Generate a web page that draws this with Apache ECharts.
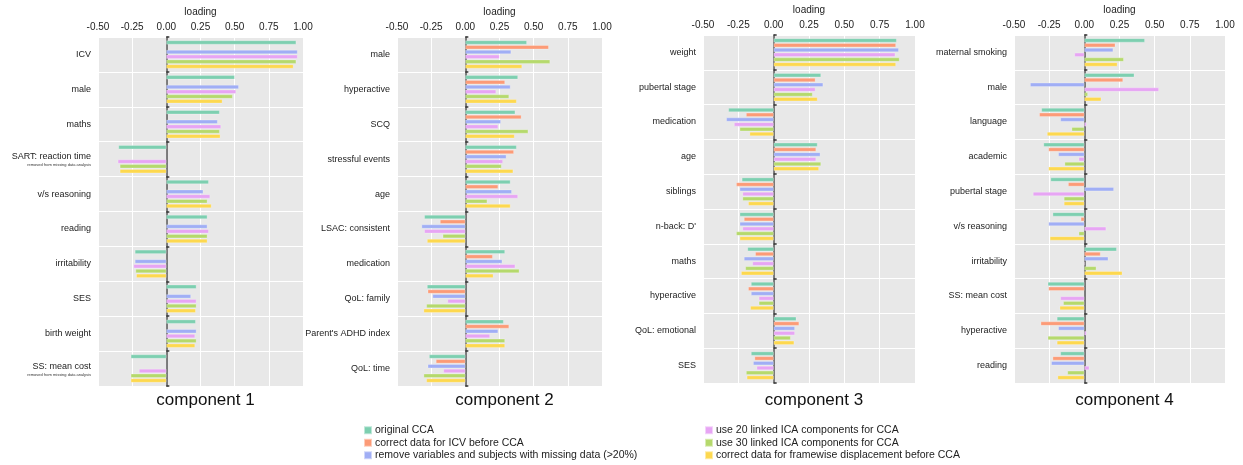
<!DOCTYPE html>
<html>
<head>
<meta charset="utf-8">
<script src="https://cdn.jsdelivr.net/npm/echarts@6/dist/echarts.min.js"></script>
<style>
  html, body { margin: 0; padding: 0; background: #ffffff; }
  #chart { width: 1243px; height: 465px; }
</style>
</head>
<body>
<div id="chart"></div>
<script>
// ---------- DATA ----------
const seriesNames = [
  'original CCA',
  'correct data for ICV before CCA',
  'remove variables and subjects with missing data (>20%)',
  'use 20 linked ICA components for CCA',
  'use 30 linked ICA components for CCA',
  'correct data for framewise displacement before CCA'
];
const seriesColors = ['#7dcfb0', '#fc9b77', '#a0aef5', '#e7a5f4', '#b5d96c', '#fdd84f'];
const tickValues = [-0.5, -0.25, 0, 0.25, 0.5, 0.75, 1.0];
const componentTitles = ['component 1', 'component 2', 'component 3', 'component 4'];

// component 1
const c1Labels = ['ICV', 'male', 'maths', 'SART: reaction time', 'v/s reasoning', 'reading', 'irritability', 'SES', 'birth weight', 'SS: mean cost'];
const c1Notes = ['', '', '', 'removed from missing data analysis', '', '', '', '', '', 'removed from missing data analysis'];
const c1Original = [0.95, 0.50, 0.39, -0.35, 0.31, 0.30, -0.23, 0.22, 0.215, -0.26];
const c1ICV      = [null, null, null, null, null, null, null, null, null, null];
const c1Missing  = [0.96, 0.53, 0.375, null, 0.27, 0.30, -0.23, 0.18, 0.22, null];
const c1ICA20    = [0.96, 0.51, 0.40, -0.355, 0.32, 0.31, -0.24, 0.22, 0.21, -0.20];
const c1ICA30    = [0.95, 0.485, 0.39, -0.34, 0.30, 0.30, -0.225, 0.22, 0.22, -0.26];
const c1FD       = [0.93, 0.41, 0.395, -0.34, 0.33, 0.30, -0.22, 0.215, 0.21, -0.26];

// component 2
const c2Labels = ['male', 'hyperactive', 'SCQ', 'stressful events', 'age', 'LSAC: consistent', 'medication', 'QoL: family', "Parent's ADHD index", 'QoL: time'];
const c2Original = [0.45, 0.385, 0.365, 0.375, 0.33, -0.30, 0.29, -0.28, 0.28, -0.265];
const c2ICV      = [0.61, 0.29, 0.41, 0.355, 0.24, -0.185, 0.20, -0.275, 0.32, -0.215];
const c2Missing  = [0.335, 0.33, 0.26, 0.30, 0.34, -0.32, 0.27, -0.24, 0.24, -0.275];
const c2ICA20    = [0.25, 0.225, 0.24, 0.275, 0.385, -0.30, 0.365, -0.13, 0.18, -0.16];
const c2ICA30    = [0.62, 0.32, 0.46, 0.265, 0.16, -0.165, 0.395, -0.285, 0.29, -0.305];
const c2FD       = [0.415, 0.375, 0.36, 0.35, 0.33, -0.28, 0.205, -0.305, 0.29, -0.285];

// component 3
const c3Labels = ['weight', 'pubertal stage', 'medication', 'age', 'siblings', "n-back: D'", 'maths', 'hyperactive', 'QoL: emotional', 'SES'];
const c3Original = [0.87, 0.335, -0.32, 0.31, -0.225, -0.24, -0.185, -0.16, 0.16, -0.16];
const c3ICV      = [0.865, 0.295, -0.195, 0.30, -0.265, -0.21, -0.13, -0.18, 0.18, -0.135];
const c3Missing  = [0.885, 0.35, -0.335, 0.33, -0.24, -0.24, -0.21, -0.16, 0.15, -0.145];
const c3ICA20    = [0.86, 0.295, -0.28, 0.30, -0.22, -0.22, -0.15, -0.105, 0.15, -0.12];
const c3ICA30    = [0.89, 0.275, -0.24, 0.335, -0.22, -0.265, -0.20, -0.105, 0.12, -0.195];
const c3FD       = [0.865, 0.31, -0.17, 0.32, -0.18, -0.24, -0.23, -0.165, 0.145, -0.19];

// component 4
const c4Labels = ['maternal smoking', 'male', 'language', 'academic', 'pubertal stage', 'v/s reasoning', 'irritability', 'SS: mean cost', 'hyperactive', 'reading'];
const c4Original = [0.43, 0.355, -0.305, -0.29, -0.24, -0.225, 0.23, -0.26, -0.195, -0.17];
const c4ICV      = [0.22, 0.275, -0.32, -0.255, -0.115, -0.025, 0.115, -0.255, -0.31, -0.225];
const c4Missing  = [0.205, -0.385, -0.17, -0.185, 0.21, -0.255, 0.17, null, -0.185, -0.235];
const c4ICA20    = [-0.07, 0.53, 0.015, -0.04, -0.365, 0.155, 0.005, -0.17, 0.015, 0.035];
const c4ICA30    = [0.28, 0.025, -0.09, -0.14, -0.145, -0.04, 0.085, -0.15, -0.26, -0.12];
const c4FD       = [0.235, 0.12, -0.265, -0.255, -0.145, -0.245, 0.27, -0.175, -0.195, -0.19];

const panels = [
  { labels: c1Labels, notes: c1Notes, values: [c1Original, c1ICV, c1Missing, c1ICA20, c1ICA30, c1FD] },
  { labels: c2Labels, notes: null, values: [c2Original, c2ICV, c2Missing, c2ICA20, c2ICA30, c2FD] },
  { labels: c3Labels, notes: null, values: [c3Original, c3ICV, c3Missing, c3ICA20, c3ICA30, c3FD] },
  { labels: c4Labels, notes: null, values: [c4Original, c4ICV, c4Missing, c4ICA20, c4ICA30, c4FD] }
];

// ---------- LAYOUT ----------
const FONT = '"Liberation Sans", Arial, Helvetica, sans-serif';
const gridBoxes = [
  { left: 98, width: 205, top: 37, height: 349 },
  { left: 397, width: 205, top: 37, height: 349 },
  { left: 703, width: 212, top: 35, height: 348 },
  { left: 1014, width: 211, top: 35, height: 348 }
];

const grids = [], xAxes = [], yAxes = [], series = [], titles = [];
panels.forEach((p, i) => {
  const g = gridBoxes[i];
  grids.push({
    left: g.left, top: g.top, width: g.width, height: g.height,
    show: true, backgroundColor: '#e8e8e8', borderWidth: 0,
    containLabel: false, outerBoundsMode: 'none'
  });
  xAxes.push({
    gridIndex: i, type: 'value', position: 'top',
    min: tickValues[0], max: tickValues[tickValues.length - 1], interval: 0.25,
    name: 'loading', nameLocation: 'middle', nameGap: 19,
    nameTextStyle: { fontSize: 10, color: '#222', fontFamily: FONT },
    axisLine: { show: false }, axisTick: { show: false },
    axisLabel: { fontSize: 10, color: '#222', margin: 5, fontFamily: FONT,
      formatter: v => v.toFixed(2) },
    splitLine: { show: true, lineStyle: { color: '#ffffff', width: 1 } }
  });
  // label axis (carries series)
  yAxes.push({
    gridIndex: i, type: 'category', inverse: true, data: p.labels,
    axisLine: { show: false, onZero: false }, axisTick: { show: false },
    splitLine: { show: true, lineStyle: { color: '#ffffff', width: 1 } },
    axisLabel: {
      fontSize: 9, color: '#222', margin: 7, fontFamily: FONT, lineHeight: 12,
      formatter: (v, idx) => (p.notes && p.notes[idx]) ? v + '\n{s|' + p.notes[idx] + '}' : v,
      rich: { s: { fontSize: 4, lineHeight: 5, color: '#333', fontFamily: FONT } }
    }
  });
  // zero line axis
  yAxes.push({
    gridIndex: i, type: 'category', inverse: true, data: p.labels,
    axisLine: { show: true, onZero: true, lineStyle: { color: '#555', width: 1.5 } },
    axisTick: { show: true, length: 3, lineStyle: { color: '#333', width: 1.5 } },
    axisLabel: { show: false }, splitLine: { show: false }
  });
  p.values.forEach((vals, s) => {
    series.push({
      type: 'bar', name: seriesNames[s], xAxisIndex: i, yAxisIndex: 2 * i,
      data: vals, barWidth: 4, barGap: '20%',
      itemStyle: { color: seriesColors[s], borderColor: 'rgba(255,255,255,0.5)', borderWidth: 0.5 },
      emphasis: { disabled: true }, silent: true
    });
  });
  titles.push({
    text: componentTitles[i], left: g.left + g.width / 2, top: 387, textAlign: 'center',
    textStyle: { fontSize: 17, fontWeight: 'normal', color: '#111', fontFamily: FONT }
  });
});

const legendCommon = {
  orient: 'vertical', icon: 'rect', itemWidth: 8, itemHeight: 8, itemGap: 0,
  selectedMode: false, padding: 0, height: 40,
  textStyle: { fontSize: 10.5, lineHeight: 12.5, color: '#222', fontFamily: FONT, padding: [0, 0, 0, -2] }
};

const option = {
  animation: false,
  backgroundColor: '#ffffff',
  color: seriesColors,
  title: titles,
  grid: grids,
  xAxis: xAxes,
  yAxis: yAxes,
  legend: [
    Object.assign({ left: 363, top: 424, data: seriesNames.slice(0, 3) }, legendCommon),
    Object.assign({ left: 704, top: 424, data: seriesNames.slice(3, 6) }, legendCommon)
  ],
  series: series
};

const chart = echarts.init(document.getElementById('chart'), null, { renderer: 'canvas' });
chart.setOption(option);
</script>
</body>
</html>
